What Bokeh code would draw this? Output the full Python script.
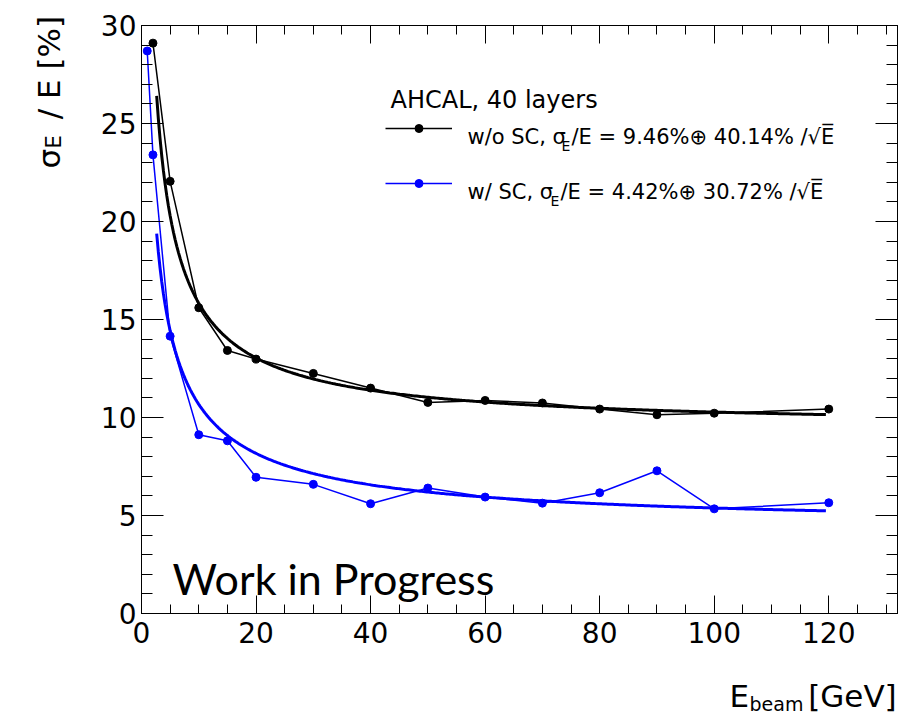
import numpy as np
from bokeh.plotting import figure
from bokeh.models import (Range1d, LinearAxis, SingleIntervalTicker, Label,
                          Legend, LegendItem)
from bokeh.embed import file_html
from bokeh.resources import INLINE

# Beam energies (GeV) and energy resolution sigma_E/E (%)
energy_nosc = [2, 5, 10, 15, 20, 30, 40, 50, 60, 70, 80, 90, 100, 120]
res_nosc = [29.1, 22.05, 15.6, 13.42, 12.98, 12.25, 11.5, 10.77, 10.87,
            10.74, 10.43, 10.14, 10.22, 10.43]

energy_sc = [1, 2, 5, 10, 15, 20, 30, 40, 50, 60, 70, 80, 90, 100, 120]
res_sc = [28.7, 23.4, 14.15, 9.12, 8.81, 6.95, 6.59, 5.6, 6.40, 5.94,
          5.63, 6.16, 7.28, 5.34, 5.65]

# Fit parameters: constant term (%) and stochastic term (% sqrt(GeV))
fit_nosc = (9.46, 40.14)
fit_sc = (4.42, 30.72)
fit_energy_range = (2.65, 119.5)

x_limits = (0, 132)
y_limits = (0, 30)
x_major, x_minor_count = 20, 4
y_major, y_minor_count = 5, 5

W, H = 902, 714
BL, BR, BT, BB = 141, 5, 25, 101
FRAME_W, FRAME_H = W - BL - BR, H - BT - BB
ROOT_FONT = "DejaVu Sans"
NBSP = "\u00a0"

p = figure(width=W, height=H, output_backend="svg", toolbar_location=None,
           x_range=Range1d(*x_limits), y_range=Range1d(*y_limits),
           min_border_left=BL, min_border_right=BR,
           min_border_top=BT, min_border_bottom=BB,
           background_fill_color="white", border_fill_color="white",
           outline_line_color="black", outline_line_width=1)
p.grid.visible = False


def style_axis(ax, interval, nminor, tin, tmin, show_labels):
    ax.ticker = SingleIntervalTicker(interval=interval, num_minor_ticks=nminor)
    ax.axis_line_color = "black"
    ax.major_tick_line_color = "black"
    ax.minor_tick_line_color = "black"
    ax.major_tick_in = tin
    ax.major_tick_out = 0
    ax.minor_tick_in = tmin
    ax.minor_tick_out = 0
    if show_labels:
        ax.major_label_text_font = ROOT_FONT
        ax.major_label_text_font_size = "28px"
        ax.major_label_text_color = "black"
    else:
        ax.major_label_text_font_size = "1px"
        ax.major_label_text_color = None
        ax.major_label_standoff = 0


style_axis(p.xaxis[0], x_major, x_minor_count, 18, 9, True)
style_axis(p.yaxis[0], y_major, y_minor_count, 22, 11, True)
p.xaxis[0].major_label_standoff = 8
p.yaxis[0].major_label_standoff = 5

top_ax = LinearAxis()
right_ax = LinearAxis()
style_axis(top_ax, x_major, x_minor_count, 18, 9, False)
style_axis(right_ax, y_major, y_minor_count, 22, 11, False)
p.add_layout(top_ax, "above")
p.add_layout(right_ax, "right")


def resolution(params, e):
    a, b = params
    return np.sqrt(a ** 2 + b ** 2 / e)


fit_e = np.linspace(fit_energy_range[0], fit_energy_range[1], 400)

# Fitted curves
p.line(fit_e, resolution(fit_nosc, fit_e), line_color="black", line_width=3)
p.line(fit_e, resolution(fit_sc, fit_e), line_color="blue", line_width=3)

# Measured points joined by lines
l1 = p.line(energy_nosc, res_nosc, line_color="black", line_width=1.5)
s1 = p.scatter(energy_nosc, res_nosc, size=8, color="black")
l2 = p.line(energy_sc, res_sc, line_color="blue", line_width=1.5)
s2 = p.scatter(energy_sc, res_sc, size=8, color="blue")

legend = Legend(items=[LegendItem(label=" ", renderers=[l1, s1]),
                       LegendItem(label=" ", renderers=[l2, s2])],
                location=(385 - BL, (H - BB) - 193),
                glyph_width=67, glyph_height=20, label_height=20,
                label_width=0, label_standoff=0, label_text_font_size="1px",
                spacing=35, padding=0, margin=0,
                border_line_color=None, background_fill_alpha=0)
p.add_layout(legend, "center")


def to_data_x(cx):
    return x_limits[0] + (cx - BL) * (x_limits[1] - x_limits[0]) / FRAME_W


def to_data_y(cy):
    return y_limits[0] + (H - BB - cy) * (y_limits[1] - y_limits[0]) / FRAME_H


def text(t, cx, cy, size, font=ROOT_FONT, angle=0.0, place="center"):
    p.add_layout(Label(x=to_data_x(cx), y=to_data_y(cy),
                       text=t, text_font=font, text_font_size=f"{size}px",
                       text_color="black", text_baseline="alphabetic",
                       text_align="left", angle=angle), place)


# Legend header and entries
text("AHCAL, 40 layers", 390, 99, 24)
text("w/o SC, σ", 467, 136, 21)
text("E", 561, 145, 14)
text("/E = 9.46%⊕ 40.14% /√E\u0305", 571, 136, 21)
text("w/ SC, σ", 467, 191, 21)
text("E", 550, 200, 14)
text("/E = 4.42%⊕ 30.72% /√E\u0305", 560, 191, 21)

# Axis titles sit outside the frame, in the side panels
text("σ" + NBSP * 3 + "/ E [%]", 48, 168, 31, angle=np.pi / 2, place="left")
text("E", 53, 148, 21, angle=np.pi / 2, place="left")

text("E" + NBSP * 6 + "[GeV]", 729, 695, 31, place="below")
text("beam", 749, 703, 19, place="below")

text("Work in Progress", 172, 578, 43, font="Lato")

open("out.html", "w").write(file_html(p, INLINE))
